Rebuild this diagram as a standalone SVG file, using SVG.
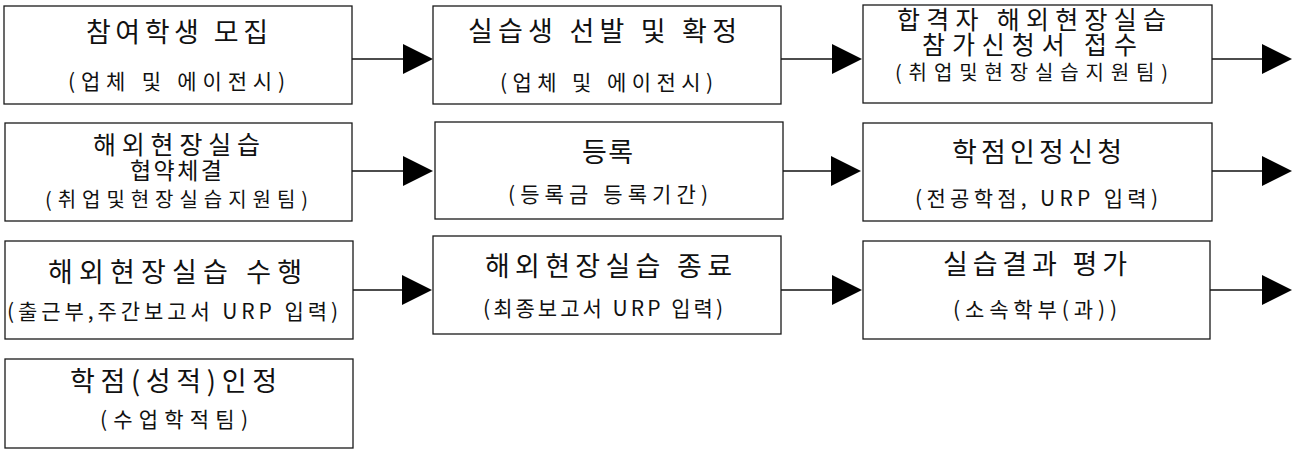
<svg xmlns="http://www.w3.org/2000/svg" width="1296" height="459" viewBox="0 0 1296 459">
<style>
.box{fill:#fff;stroke:#1a1a1a;stroke-width:1.3}
text{font-family:"Noto Sans CJK KR","Noto Sans",sans-serif;fill:#111;text-anchor:middle}
.t{font-size:27px}
.m{font-size:25px}
.s{font-size:21px}
.conn{stroke:#111;stroke-width:1.3;fill:none;marker-end:url(#arr)}
</style>
<defs>
<marker id="arr" markerUnits="userSpaceOnUse" markerWidth="30" markerHeight="30" viewBox="0 0 30 30" refX="0" refY="15" orient="auto">
<path d="M0,0 L30,15 L0,30 Z" fill="#000"/>
</marker>
</defs>
<rect width="1296" height="459" fill="#fff"/>
<g id="connectors">
<path class="conn" d="M352,59 L403,59"/>
<path class="conn" d="M781,59 L832,59"/>
<path class="conn" d="M1212,59 L1262,59"/>
<path class="conn" d="M352,171 L403,171"/>
<path class="conn" d="M783,171 L831,171"/>
<path class="conn" d="M1212,171 L1262,171"/>
<path class="conn" d="M353,290 L402,290"/>
<path class="conn" d="M781,290 L832,290"/>
<path class="conn" d="M1210,290 L1262,290"/>
</g>
<g id="n1">
<rect class="box" x="4" y="6" width="348" height="98"/>
<text class="t" x="177" y="42" textLength="182" lengthAdjust="spacing">참여학생 모집</text>
<text class="s" x="176.5" y="89" textLength="217" lengthAdjust="spacing">(업체 및 에이전시)</text>
</g>
<g id="n2">
<rect class="box" x="433" y="6" width="348" height="98"/>
<text class="t" x="602.5" y="41" textLength="269" lengthAdjust="spacing">실습생 선발 및 확정</text>
<text class="s" x="606.5" y="90" textLength="213" lengthAdjust="spacing">(업체 및 에이전시)</text>
</g>
<g id="n3">
<rect class="box" x="863" y="5" width="349" height="98"/>
<text class="m"><tspan x="1031.5" y="29" textLength="269" lengthAdjust="spacing">합격자 해외현장실습</tspan><tspan x="1029.5" y="54" textLength="215" lengthAdjust="spacing">참가신청서 접수</tspan><tspan x="1031.5" y="80" font-size="20" textLength="273" lengthAdjust="spacing">(취업및현장실습지원팀)</tspan></text>
</g>
<g id="n4">
<rect class="box" x="5" y="123" width="347" height="98"/>
<text class="m"><tspan x="176.5" y="154" textLength="167" lengthAdjust="spacing">해외현장실습</tspan><tspan x="176" y="179" font-size="23" textLength="92" lengthAdjust="spacing">협약체결</tspan><tspan x="176.5" y="207" font-size="20" textLength="263" lengthAdjust="spacing">(취업및현장실습지원팀)</tspan></text>
</g>
<g id="n5">
<rect class="box" x="435" y="122" width="348" height="97"/>
<text class="t" x="607.5" y="162" textLength="51" lengthAdjust="spacing">등록</text>
<text class="s" x="608" y="202" textLength="200" lengthAdjust="spacing">(등록금 등록기간)</text>
</g>
<g id="n6">
<rect class="box" x="863" y="123" width="349" height="98"/>
<text class="t" x="1037" y="162" textLength="170" lengthAdjust="spacing">학점인정신청</text>
<text class="s" x="1036.5" y="206" textLength="243" lengthAdjust="spacing">(전공학점, URP 입력)</text>
</g>
<g id="n7">
<rect class="box" x="5" y="241" width="348" height="98"/>
<text class="t" x="175" y="282" textLength="254" lengthAdjust="spacing">해외현장실습 수행</text>
<text class="s" x="172.5" y="319" font-size="20" textLength="331" lengthAdjust="spacing">(출근부,주간보고서 URP 입력)</text>
</g>
<g id="n8">
<rect class="box" x="433" y="236" width="348" height="98"/>
<text class="t" x="608.5" y="276" textLength="247" lengthAdjust="spacing">해외현장실습 종료</text>
<text class="s" x="603" y="316" textLength="240" lengthAdjust="spacing">(최종보고서 URP 입력)</text>
</g>
<g id="n9">
<rect class="box" x="863" y="241" width="347" height="98"/>
<text class="t" x="1035" y="274" textLength="184" lengthAdjust="spacing">실습결과 평가</text>
<text class="s" x="1035" y="317" textLength="164" lengthAdjust="spacing">(소속학부(과))</text>
</g>
<g id="n10">
<rect class="box" x="5" y="359" width="348" height="89"/>
<text class="t" x="173.5" y="391" textLength="207" lengthAdjust="spacing">학점(성적)인정</text>
<text class="s" x="174" y="427" textLength="148" lengthAdjust="spacing">(수업학적팀)</text>
</g>
</svg>
